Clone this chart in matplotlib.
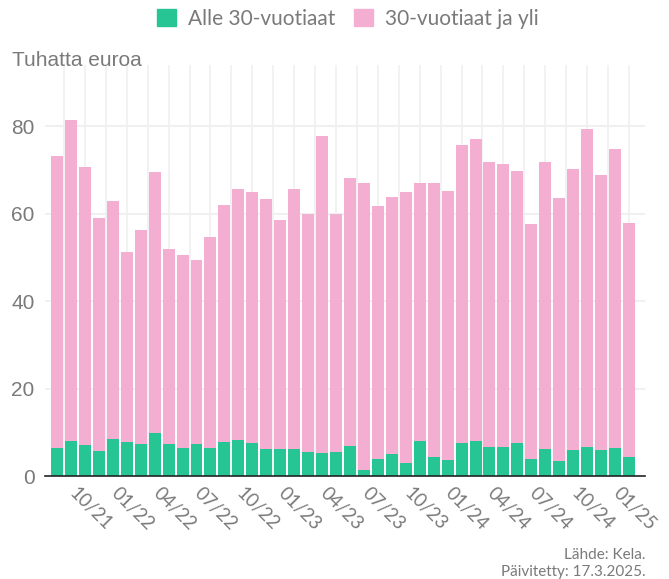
import matplotlib.pyplot as plt
from matplotlib.patches import Patch

# Kuukausittaiset summat (tuhatta euroa), 08/2021 - 01/2025
months = ["08/21", "09/21", "10/21", "11/21", "12/21",
          "01/22", "02/22", "03/22", "04/22", "05/22", "06/22", "07/22", "08/22", "09/22", "10/22", "11/22", "12/22",
          "01/23", "02/23", "03/23", "04/23", "05/23", "06/23", "07/23", "08/23", "09/23", "10/23", "11/23", "12/23",
          "01/24", "02/24", "03/24", "04/24", "05/24", "06/24", "07/24", "08/24", "09/24", "10/24", "11/24", "12/24",
          "01/25"]
under30 = [6.4, 8.0, 7.1, 5.7, 8.5, 7.8, 7.3, 9.8, 7.3, 6.4, 7.3, 6.4, 7.8, 8.2, 7.5,
           6.2, 6.2, 6.2, 5.5, 5.3, 5.5, 6.9, 1.4, 3.9, 5.0, 3.0, 8.0, 4.3, 3.7, 7.5,
           8.0, 6.6, 6.6, 7.5, 3.9, 6.2, 3.4, 5.9, 6.6, 5.9, 6.4, 4.3]
totals = [73.1, 81.4, 70.6, 59.0, 62.9, 51.2, 56.2, 69.5, 51.9, 50.5, 49.4, 54.6, 61.9, 65.6, 64.9,
          63.3, 58.5, 65.6, 59.9, 77.7, 59.9, 68.1, 67.0, 61.7, 63.8, 64.9, 67.0, 67.0, 65.1, 75.7,
          77.0, 71.8, 71.3, 69.7, 57.6, 71.8, 63.5, 70.2, 79.3, 68.8, 74.7, 57.8]
over30 = [round(t - u, 1) for t, u in zip(totals, under30)]
tick_labels = ["10/21", "01/22", "04/22", "07/22", "10/22", "01/23", "04/23",
               "07/23", "10/23", "01/24", "04/24", "07/24", "10/24", "01/25"]

green = "#27c494"
pink = "#f4aed1"
grey = "#7a7a7a"

fig = plt.figure(figsize=(6.69, 5.79), dpi=100)
ax = fig.add_axes([45 / 669, 103 / 579, 600 / 669, 411 / 579])

x = list(range(len(months)))
ax.bar(x, under30, width=0.86, color=green, zorder=2)
ax.bar(x, over30, width=0.86, bottom=under30, color=pink, zorder=2)

# grid
for gx in [0.5 + 1.5 * k for k in range(28)]:
    ax.axvline(gx, color="#f0f0f0", lw=1.2, zorder=0)
for gy in [20, 40, 60, 80]:
    ax.axhline(gy, color="#f0f0f0", lw=1.5, zorder=0)

ax.set_xlim(-0.86, 42.15)
ax.set_ylim(0, 94)

ax.set_yticks([0, 20, 40, 60, 80])
ax.tick_params(axis="y", length=0, pad=7.5, labelsize=15, labelcolor=grey)
for lab in ax.get_yticklabels():
    lab.set_fontfamily("Liberation Sans")

tick_pos = [months.index(t) - 0.5 for t in tick_labels]
ax.set_xticks(tick_pos)
ax.set_xticklabels(tick_labels, rotation=-45, ha="left", va="top",
                   rotation_mode="anchor", fontsize=13.5, color=grey, family="Lato")
ax.tick_params(axis="x", length=0, pad=6)

for s in ["top", "right", "left"]:
    ax.spines[s].set_visible(False)
ax.spines["bottom"].set_color("#222222")
ax.spines["bottom"].set_linewidth(1.2)
ax.spines["bottom"].set_zorder(3)

fig.text(12 / 669, 1 - 61 / 579, "Tuhatta euroa", fontsize=15, color=grey,
         family="Liberation Sans", va="center", ha="left")

handles = [Patch(color=green, label="Alle 30-vuotiaat"),
           Patch(color=pink, label="30-vuotiaat ja yli")]
leg = fig.legend(handles=handles, loc="center", bbox_to_anchor=(0.52, 1 - 19 / 579), ncol=2,
                 frameon=False, prop={"family": "Lato", "size": 15},
                 handlelength=0.9, handleheight=0.9, handletextpad=0.6, columnspacing=0.9)
for t in leg.get_texts():
    t.set_color(grey)

fig.text(646 / 669, 1 - 555 / 579, "Lähde: Kela.", ha="right", va="center",
         fontsize=11, color=grey, family="Lato")
fig.text(646 / 669, 1 - 572 / 579, "Päivitetty: 17.3.2025.", ha="right", va="center",
         fontsize=11, color=grey, family="Lato")

fig.savefig("out.png", dpi=100)
